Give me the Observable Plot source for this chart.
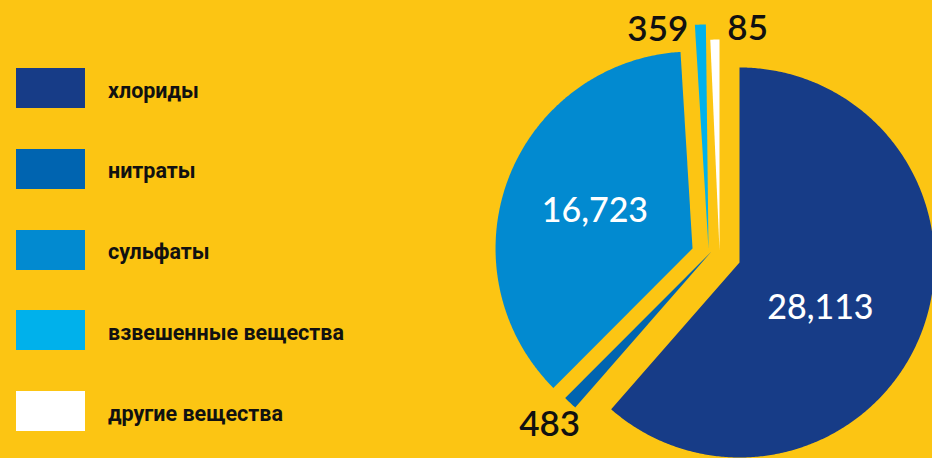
<!DOCTYPE html>
<html>
<head>
<meta charset="utf-8">
<script src="https://cdn.jsdelivr.net/npm/d3@7"></script>
<script src="https://cdn.jsdelivr.net/npm/@observablehq/plot@0.6"></script>
<style>
  html, body { margin: 0; padding: 0; background: #FCC513; }
  #wrap { position: relative; width: 932px; height: 458px; display: flex; overflow: hidden; background: #FCC513; }
  #legend { position: relative; width: 480px; height: 458px; flex: none; }
  .item { position: absolute; left: 16px; height: 40px; display: flex; align-items: center; }
  .sw { width: 69px; height: 40px; flex: none; }
  .lab { margin-left: 23px; padding-top: 4px; font-family: Roboto, "Noto Sans", sans-serif; font-weight: 700; font-size: 21.5px; color: #111; white-space: nowrap; }
  #chart svg { display: block; overflow: hidden; }
</style>
</head>
<body>
<div id="wrap"><div id="legend"></div><div id="chart"></div></div>
<script>
// ---- data ----
const categories = ["хлориды", "нитраты", "сульфаты", "взвешенные вещества", "другие вещества"];
const values = [28113, 483, 16723, 359, 85];
const valueLabels = ["28,113", "483", "16,723", "359", "85"];

// ---- styles ----
const colors = ["#173C87", "#0064B0", "#028AD0", "#00B1EB", "#FFFFFF"];
const labelColors = ["#FFFFFF", "#111111", "#FFFFFF", "#111111", "#111111"];
// per-slice explode offset (in radius units), radius scale, min sweep (deg)
const explodeDX = [0, -0.1436, -0.241, -0.159, -0.1026];
const explodeDY = [0, 0.0564, 0.0718, 0.0718, 0.0615];
const radiusK = [1.0, 1.062, 1.010, 1.149, 1.082];
const minSweepDeg = 2.5;
// label placement: radius factor and angle shift (deg) relative to slice mid-angle
const labelRho = [0.477, 1.145, 0.53, 1.0, 1.057];
const labelShift = [9, 0, 0, -11, 8.5];

// ---- legend ----
const legend = document.getElementById("legend");
categories.forEach((c, i) => {
  const it = document.createElement("div");
  it.className = "item";
  it.style.top = (68 + i * 80.75) + "px";
  const sw = document.createElement("div");
  sw.className = "sw";
  sw.style.background = colors[i];
  const lb = document.createElement("div");
  lb.className = "lab";
  lb.textContent = c;
  it.appendChild(sw); it.appendChild(lb);
  legend.appendChild(it);
});

// ---- pie geometry via d3.pie ----
const arcs = d3.pie().sort(null).startAngle(0).endAngle(2 * Math.PI)(values);
const rad = Math.PI / 180;
const polys = [];
const labels = [];
arcs.forEach((a, i) => {
  let a0 = a.startAngle, a1 = a.endAngle;
  if (a1 - a0 < minSweepDeg * rad) a0 = a1 - minSweepDeg * rad;
  const cx = explodeDX[i], cy = explodeDY[i], R = radiusK[i];
  const cat = categories[i];
  polys.push({cat, x: cx, y: cy});
  const n = Math.max(2, Math.ceil((a1 - a0) / (0.5 * rad)));
  for (let k = 0; k <= n; k++) {
    const t = a0 + (a1 - a0) * k / n;
    polys.push({cat, x: cx + R * Math.sin(t), y: cy + R * Math.cos(t)});
  }
  polys.push({cat, x: cx, y: cy});
  const m = (a0 + a1) / 2 + labelShift[i] * rad;
  labels.push({
    text: valueLabels[i],
    x: cx + labelRho[i] * R * Math.sin(m),
    y: cy + labelRho[i] * R * Math.cos(m),
    color: labelColors[i],
    inside: labelColors[i] === "#FFFFFF"
  });
});

const W = 452, H = 458;
const unit = 195;       // pixels per radius unit
const cxPix = 259, cyPix = 262; // main pie center within svg

const chart = Plot.plot({
  width: W, height: H,
  margin: 0,
  style: {background: "#FCC513", overflow: "hidden"},
  x: {domain: [-cxPix / unit, (W - cxPix) / unit], axis: null},
  y: {domain: [-(H - cyPix) / unit, cyPix / unit], axis: null},
  color: {domain: categories, range: colors},
  marks: [
    Plot.line(polys, {x: "x", y: "y", z: "cat", fill: "cat", stroke: null, curve: "linear-closed"}),
    Plot.text(labels.filter(d => d.inside), {
      x: "x", y: "y", text: "text", fill: "color",
      fontSize: 34, fontFamily: "Lato, 'Open Sans', sans-serif", fontWeight: 500
    }),
    Plot.text(labels.filter(d => !d.inside), {
      x: "x", y: "y", text: "text", fill: "color",
      fontSize: 35, fontFamily: "Lato, 'Open Sans', sans-serif", fontWeight: 600
    })
  ]
});
document.getElementById("chart").appendChild(chart);
</script>
</body>
</html>
